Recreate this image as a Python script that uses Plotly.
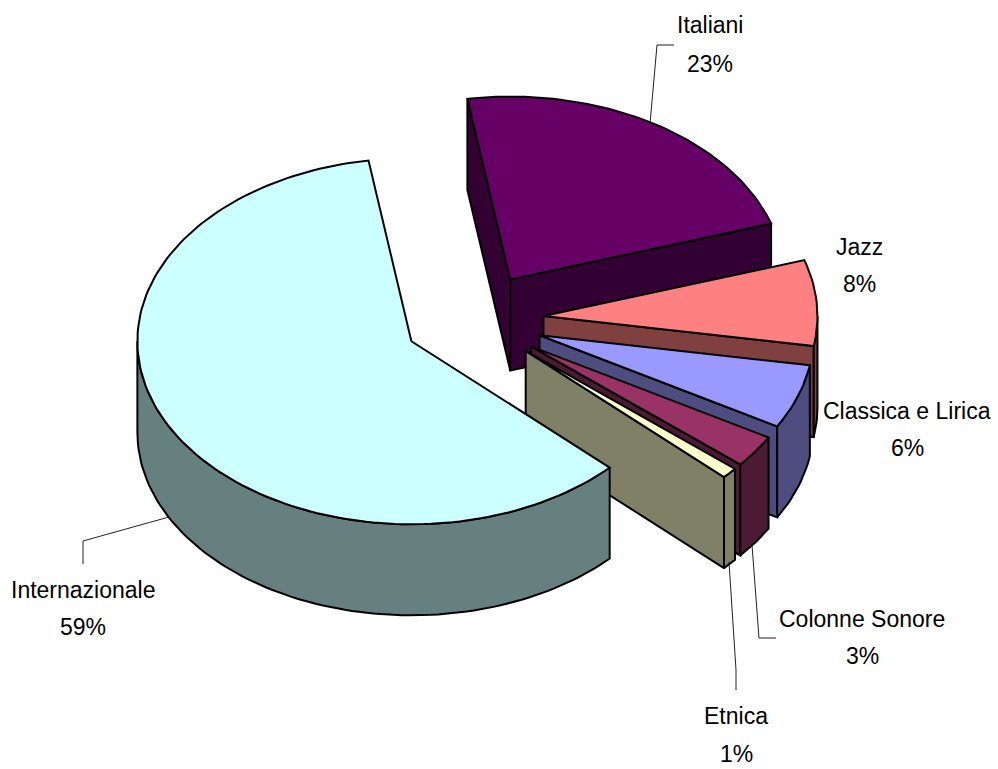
import math
import plotly.graph_objects as go

# Data
categories = ["Italiani", "Jazz", "Classica e Lirica", "Colonne Sonore", "Etnica", "Internazionale"]
values = [23, 8, 6, 3, 1, 59]
top_colors = ["#660066", "#FF8080", "#9999FF", "#993366", "#FFFFCC", "#CCFFFF"]
side_colors = ["#330033", "#804040", "#4D4D80", "#4D1A33", "#808066", "#668080"]

# Label anchors (name line, percent line) in page pixels
name_xy = [(710, 25), (859, 247), (907, 411), (862, 619), (736, 716), (83, 590)]
pct_xy = [(710, 64), (859, 284), (907, 448), (862, 656), (736, 754), (83, 627)]
leaders = [
    [(650, 124), (657, 45), (674, 45)],
    [(169, 517), (83, 541), (83, 564)],
    [(752, 545), (759, 638), (776, 638)],
    [(729, 562), (736, 670), (736, 690)],
]

# Projection of the pie
WIDTH, HEIGHT = 998, 769
CX, CY = 473.5, 319.5
RX, RY = 274, 183
DEPTH = 91
PULL = 0.256
START = -9.0
WARP = 5.6


def warp(cum_share):
    # Foreshortening of the tilted disc: the front of the pie opens slightly.
    deg = cum_share * 360
    return START + deg - WARP * ((1 - math.cos(math.radians(deg))) / 2) ** 1.5


def pt(t, ax, ay, dz=0):
    r = math.radians(t)
    return ax + RX * math.sin(r), ay - RY * math.cos(r) + dz


def facing(t):
    return -math.cos(math.radians(t)) > 0


def poly(points, fill):
    xs = [p[0] for p in points] + [points[0][0]]
    ys = [p[1] for p in points] + [points[0][1]]
    return go.Scatter(x=xs, y=ys, mode="lines", fill="toself", fillcolor=fill,
                      line=dict(color="black", width=2), hoverinfo="skip", showlegend=False)


fig = go.Figure()
total = sum(values)
cum = 0
for value, top, side in zip(values, top_colors, side_colors):
    t0 = warp(cum / total)
    cum += value
    t1 = warp(cum / total)
    mid = (t0 + t1) / 2
    r = math.radians(mid)
    ax = CX + PULL * RX * math.sin(r)
    ay = CY - PULL * RY * math.cos(r)
    steps = max(2, int((t1 - t0) / 1.5))
    ts = [t0 + (t1 - t0) * i / steps for i in range(steps + 1)]

    # cut faces that look toward the viewer
    if facing(t0 - 90):
        p = pt(t0, ax, ay)
        fig.add_trace(poly([(ax, ay), p, (p[0], p[1] + DEPTH), (ax, ay + DEPTH)], side))
    if facing(t1 + 90):
        p = pt(t1, ax, ay)
        fig.add_trace(poly([(ax, ay), p, (p[0], p[1] + DEPTH), (ax, ay + DEPTH)], side))
    # outer rim, front half only
    front = [t for t in ts if 90 <= t <= 270]
    if t0 < 90 < t1:
        front = [90] + front
    if t0 < 270 < t1:
        front = front + [270]
    if len(front) > 1:
        upper = [pt(t, ax, ay) for t in front]
        lower = [pt(t, ax, ay, DEPTH) for t in reversed(front)]
        fig.add_trace(poly(upper + lower, side))
    # top
    fig.add_trace(poly([(ax, ay)] + [pt(t, ax, ay) for t in ts], top))

for line in leaders:
    fig.add_trace(go.Scatter(x=[p[0] for p in line], y=[p[1] for p in line], mode="lines",
                             line=dict(color="#222222", width=1), hoverinfo="skip", showlegend=False))

font = dict(family="Liberation Sans, Arial, sans-serif", size=23, color="black")
for name, value, nxy, pxy in zip(categories, values, name_xy, pct_xy):
    fig.add_annotation(x=nxy[0], y=nxy[1], text=name, showarrow=False, font=font)
    fig.add_annotation(x=pxy[0], y=pxy[1], text=f"{value}%", showarrow=False, font=font)

fig.update_layout(
    width=WIDTH, height=HEIGHT, margin=dict(l=0, r=0, t=0, b=0),
    paper_bgcolor="white", plot_bgcolor="white", showlegend=False,
    xaxis=dict(range=[0, WIDTH], visible=False, fixedrange=True),
    yaxis=dict(range=[HEIGHT, 0], visible=False, fixedrange=True),
)
fig.write_html("out.html", config={"displayModeBar": False},
               post_script="document.body.style.margin='0';document.body.style.overflow='hidden';")
